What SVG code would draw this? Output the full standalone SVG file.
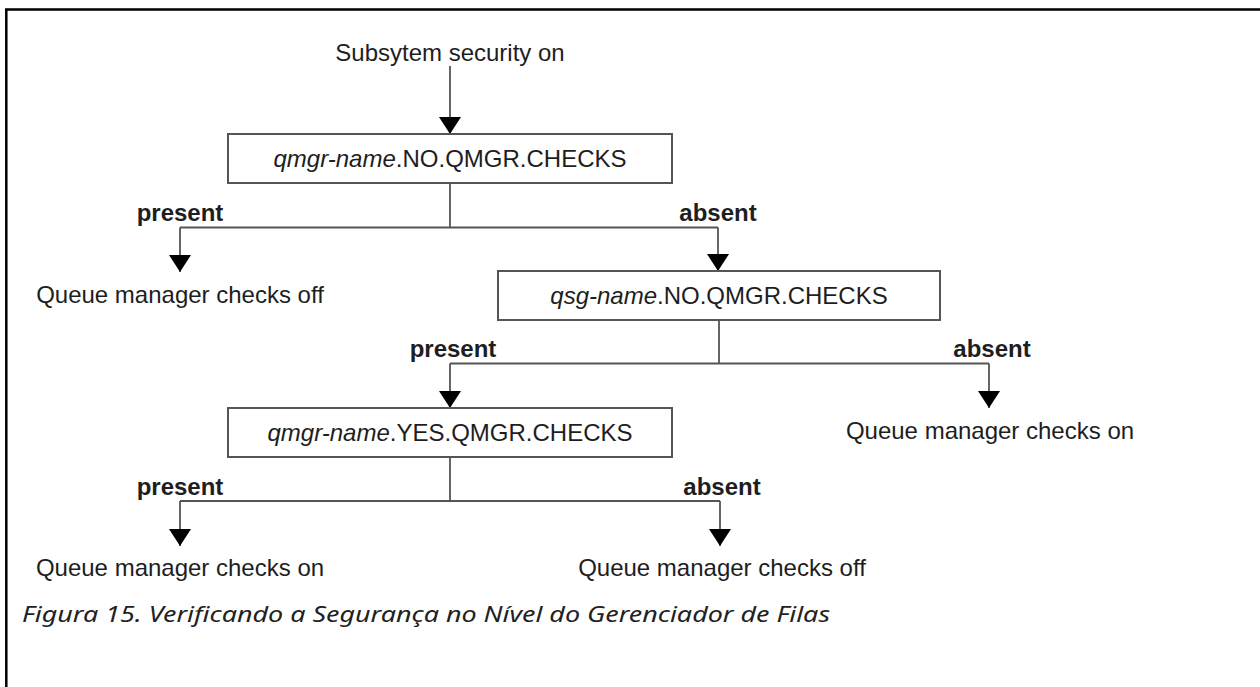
<svg xmlns="http://www.w3.org/2000/svg" width="1260" height="687" viewBox="0 0 1260 687">
<style>
.t{font-family:"Liberation Sans",Arial,Helvetica,sans-serif;font-size:24px;fill:#1e1e1e}
.lbl{font-family:"Liberation Sans",Arial,Helvetica,sans-serif;font-size:24px;font-weight:bold;fill:#1e1e1e;text-anchor:middle}
.c{text-anchor:middle}
.i{font-style:italic}
.box{fill:#fff;stroke:#555;stroke-width:2}
.ln{fill:none;stroke:#555;stroke-width:1.8}
.arr{marker-end:url(#ah)}
.cap{font-family:"Noto Sans","Open Sans",sans-serif;font-style:italic;font-size:22px;fill:#222}
</style>
<defs>
<marker id="ah" markerUnits="userSpaceOnUse" viewBox="0 0 17 22" refX="17" refY="11" markerWidth="17" markerHeight="22" orient="auto"><path d="M0,0 L17,11 L0,22 Z" fill="#000"/></marker>
</defs>
<rect width="1260" height="687" fill="#fff"/>
<g id="frame"><path d="M5,9.5 H1260 M6.3,8.3 V687" stroke="#000" stroke-width="2.5" fill="none"/></g>
<g id="connectors">
<path class="ln arr" d="M450,66 V134"/>
<path class="ln" d="M450,183 V227.5 M180,227.5 H718"/>
<path class="ln arr" d="M180,227.5 V272"/>
<path class="ln arr" d="M718,227.5 V271"/>
<path class="ln" d="M719,320 V363.5 M450,363.5 H989"/>
<path class="ln arr" d="M450,363.5 V408"/>
<path class="ln arr" d="M989,363.5 V408"/>
<path class="ln" d="M450,457 V501 M180,501 H720"/>
<path class="ln arr" d="M180,501 V546"/>
<path class="ln arr" d="M720,501 V546"/>
<text class="lbl" x="180" y="221">present</text>
<text class="lbl" x="718" y="221">absent</text>
<text class="lbl" x="453" y="357">present</text>
<text class="lbl" x="992" y="357">absent</text>
<text class="lbl" x="180" y="495">present</text>
<text class="lbl" x="722" y="495">absent</text>
</g>
<g id="start"><text class="t c" x="450" y="61">Subsytem security on</text></g>
<g id="qmgr-no">
<rect class="box" x="228" y="134" width="444" height="49"/>
<text class="t c" x="450" y="167"><tspan class="i">qmgr-name</tspan>.NO.QMGR.CHECKS</text>
</g>
<g id="qsg-no">
<rect class="box" x="498" y="271" width="442" height="49"/>
<text class="t c" x="719" y="304"><tspan class="i">qsg-name</tspan>.NO.QMGR.CHECKS</text>
</g>
<g id="qmgr-yes">
<rect class="box" x="228" y="408" width="444" height="49"/>
<text class="t c" x="450" y="441"><tspan class="i">qmgr-name</tspan>.YES.QMGR.CHECKS</text>
</g>
<g id="off1"><text class="t c" x="180" y="303">Queue manager checks off</text></g>
<g id="on2"><text class="t c" x="990" y="439">Queue manager checks on</text></g>
<g id="on3"><text class="t c" x="180" y="576">Queue manager checks on</text></g>
<g id="off3"><text class="t c" x="722" y="576">Queue manager checks off</text></g>
<g id="caption"><text class="cap" x="22" y="622" textLength="808" lengthAdjust="spacingAndGlyphs">Figura 15. Verificando a Segurança no Nível do Gerenciador de Filas</text></g>
</svg>
